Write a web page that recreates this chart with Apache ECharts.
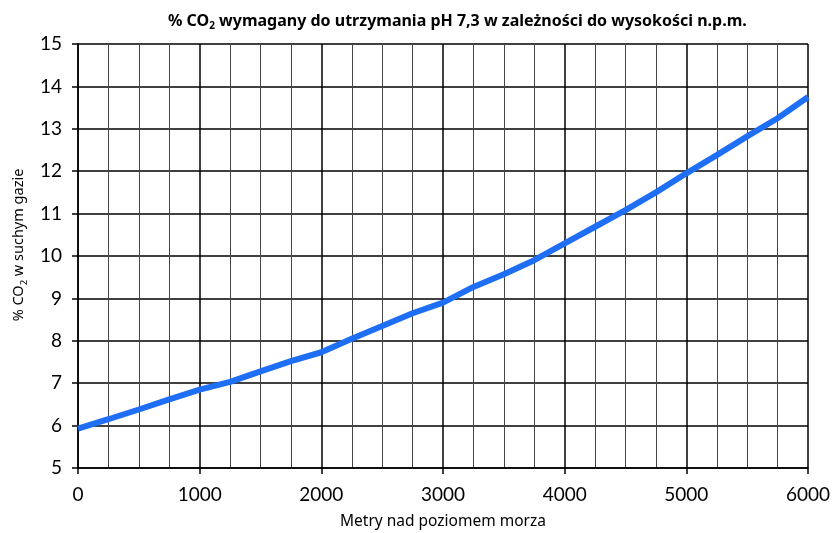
<!DOCTYPE html>
<html>
<head>
<meta charset="utf-8">
<script src="https://cdn.jsdelivr.net/npm/echarts@6/dist/echarts.min.js"></script>
<style>
  html, body { margin: 0; padding: 0; background: #fff; }
  #chart { width: 834px; height: 533px; }
</style>
</head>
<body>
<div id="chart"></div>
<script>
// Altitude above sea level (m) and the CO2 share needed to hold pH 7.3
const altitude = [0, 250, 500, 750, 1000, 1250, 1500, 1750, 2000, 2250, 2500, 2750, 3000,
                  3250, 3500, 3750, 4000, 4250, 4500, 4750, 5000, 5250, 5500, 5750, 6000];
const co2Percent = [5.93, 6.15, 6.38, 6.62, 6.85, 7.03, 7.28, 7.52, 7.73, 8.05, 8.35, 8.65, 8.9,
                    9.27, 9.57, 9.9, 10.3, 10.69, 11.08, 11.5, 11.95, 12.38, 12.82, 13.25, 13.75];

const points = altitude.map((a, i) => [a, co2Percent[i]]);

const chart = echarts.init(document.getElementById('chart'));
chart.setOption({
  animation: false,
  title: {
    text: '{t|% CO}{s|2}{t| wymagany do utrzymania pH 7,3 w zależności do wysokości n.p.m.}',
    left: 163,
    top: 6,
    textStyle: {
      rich: {
        t: { fontFamily: 'Noto Sans', fontWeight: 'bold', fontSize: 16, color: '#000' },
        s: { fontFamily: 'Noto Sans', fontWeight: 'bold', fontSize: 10, color: '#000', padding: [10, 0, 0, 0] }
      }
    }
  },
  grid: { left: 78, right: 26, top: 44, bottom: 65, outerBoundsMode: 'none', containLabel: false },
  xAxis: {
    type: 'value',
    min: 0, max: 6000, interval: 1000,
    name: 'Metry nad poziomem morza',
    nameLocation: 'middle',
    nameGap: 46,
    nameTextStyle: { fontFamily: 'Noto Sans', fontSize: 15.5, color: '#000' },
    axisLine: { lineStyle: { color: '#000', width: 1.5 } },
    axisTick: { show: true, length: 6, lineStyle: { color: '#000', width: 1.5 } },
    axisLabel: { fontFamily: 'Lato', fontSize: 19, color: '#000', margin: 17, formatter: v => String(v) },
    splitLine: { show: true, lineStyle: { color: '#000', width: 1.5 } },
    minorTick: { show: false, splitNumber: 4 },
    minorSplitLine: { show: true, lineStyle: { color: '#444', width: 1 } }
  },
  yAxis: {
    type: 'value',
    min: 5, max: 15, interval: 1,
    name: '{t|% CO}{s|2}{t| w suchym gazie}',
    nameLocation: 'middle',
    nameGap: 48,
    nameRotate: 90,
    nameTextStyle: {
      padding: [0, 0, 0, 22],
      rich: {
        t: { fontFamily: 'Noto Sans', fontSize: 14.5, color: '#000' },
        s: { fontFamily: 'Noto Sans', fontSize: 9.5, color: '#000', padding: [10, 0, 0, 0] }
      }
    },
    axisLine: { show: true, lineStyle: { color: '#000', width: 1.5 } },
    axisTick: { show: true, length: 6, lineStyle: { color: '#000', width: 1.5 } },
    axisLabel: { fontFamily: 'Lato', fontSize: 19, color: '#000', margin: 16 },
    splitLine: { show: true, lineStyle: { color: '#000', width: 1.5 } }
  },
  series: [{
    type: 'line',
    data: points,
    showSymbol: false,
    smooth: false,
    lineStyle: { color: '#1e6ff6', width: 6 },
    z: 5
  }]
});
</script>
</body>
</html>
